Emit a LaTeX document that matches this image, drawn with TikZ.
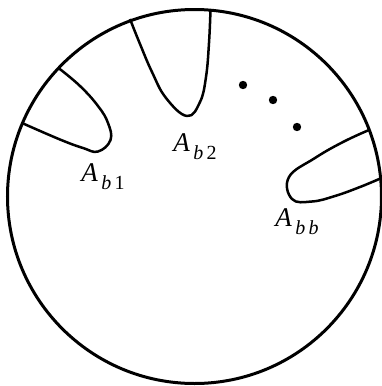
\documentclass[tikz,border=0pt]{standalone}
\usepackage{fontspec}
\setmainfont{Liberation Serif}
\begin{document}
\begin{tikzpicture}[x=1pt,y=-1pt,
  rim/.style={line width=3pt},
  loopline/.style={line width=2.5pt, line join=round},
  lab/.style={font=\fontsize{27}{30}\selectfont, inner sep=0pt},
  dotmark/.style={fill=black}]
\useasboundingbox (0,0) rectangle (382,386);
\draw[rim] (194.5,196.5) circle (187);
% A_b1
\draw[loopline] plot[smooth, tension=0.7] coordinates {(58.5,68) (80,86) (98,106) (108,123) (110.5,140) (98,151.5) (83,148) (60,139.5) (22,123)};
% A_b2
\draw[loopline] plot[smooth, tension=0.7] coordinates {(130,19) (140,44) (152,72) (166,98) (187,116) (200,102) (206,77) (209,43) (210.5,10)};
% A_bb
\draw[loopline] plot[smooth, tension=0.7] coordinates {(369,130) (343,142) (315,158) (289,177) (292,199) (312,201.5) (335,196) (360,187) (381.5,178)};
% dots
\fill[dotmark] (243,85) circle (4.2);
\fill[dotmark] (273,100) circle (4.2);
\fill[dotmark] (297,127) circle (4.2);
% labels
\node[lab] (l1) at (103,177) {\textit{A}\raisebox{-0.3em}{\fontsize{20}{22}\selectfont\,\textit{b}\,1}};
\node[lab] (l2) at (195,147) {\textit{A}\raisebox{-0.3em}{\fontsize{20}{22}\selectfont\,\textit{b}\,2}};
\node[lab] (lb) at (297,222) {\textit{A}\raisebox{-0.3em}{\fontsize{20}{22}\selectfont\,\textit{b}\,\textit{b}}};
\end{tikzpicture}
\end{document}
